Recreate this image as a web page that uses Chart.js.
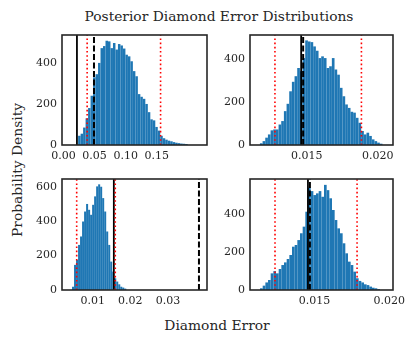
<!DOCTYPE html>
<html>
<head>
<meta charset="utf-8">
<script src="https://cdn.jsdelivr.net/npm/chart.js@4.4.0/dist/chart.umd.min.js"></script>
<style>
  body { margin: 0; background: #fff; }
  #wrap { position: relative; width: 415px; height: 343px; font-family: 'DejaVu Serif', serif; color: #262626; }
  #wrap canvas { position: absolute; }
  .lbl { position: absolute; white-space: nowrap; font-size: 13.8px; transform: translate(-50%, -50%); }
</style>
</head>
<body>
<div id="wrap">
  <div class="lbl" style="left:219px; top:16px;">Posterior Diamond Error Distributions</div>
  <div class="lbl" style="left:217px; top:325px;">Diamond Error</div>
  <div class="lbl" style="left:17px; top:170px; transform: translate(-50%, -50%) rotate(-90deg);">Probability Density</div>
  <canvas id="histA"></canvas>
  <canvas id="histB"></canvas>
  <canvas id="histC"></canvas>
  <canvas id="histD"></canvas>
</div>
<script>
// top left
const binStartA = 0.0235, binWidthA = 0.004;
const countsA = [45, 55, 85, 130, 180, 240, 330, 345, 400, 472, 482, 508, 505, 472, 497, 465, 492, 485, 470, 440,
  432, 408, 360, 335, 248, 235, 225, 200, 160, 125, 120, 88, 70, 45, 33, 26, 21, 18, 14, 11, 9, 7, 6, 5];
const refLinesA = [0.0216, 0.049];      // solid, dashed
const intervalA = [0.038, 0.156];
const xTicksA = [0, 0.05, 0.10, 0.15];
const xLabelsA = ['0.00', '0.05', '0.10', '0.15'];
const yTicksA = [0, 200, 400];

// top right
const binStartB = 0.01169, binWidthB = 0.000188;
const countsB = [8, 18, 34, 49, 68, 72, 72, 95, 111, 157, 191, 249, 293, 319, 357, 342, 403, 485, 480, 477,
  457, 437, 403, 411, 403, 357, 365, 403, 350, 326, 265, 226, 188, 172, 154, 150, 126, 103, 65, 49, 57, 42, 26, 18, 11, 6];
const refLinesB = [0.01460, 0.01474];
const intervalB = [0.01275, 0.018852];
const xTicksB = [0.015, 0.020];
const xLabelsB = ['0.015', '0.020'];
const yTicksB = [0, 200, 400];

// bottom left
const binStartC = 0.00447, binWidthC = 0.000535;
const countsC = [19, 146, 175, 262, 311, 398, 456, 500, 466, 437, 495, 544, 602, 614, 600, 534, 456, 340, 262, 165,
  107, 68, 49, 33, 19, 14, 8];
const refLinesC = [0.01560, 0.03826];
const intervalC = [0.00571, 0.01598];
const xTicksC = [0.01, 0.02, 0.03];
const xLabelsC = ['0.01', '0.02', '0.03'];
const yTicksC = [0, 200, 400, 600];

// bottom right
const binStartD = 0.01137, binWidthD = 0.000178;
const countsD = [9, 23, 40, 53, 88, 100, 88, 111, 132, 146, 164, 185, 229, 238, 264, 300, 335, 414, 541, 523,
  502, 511, 523, 493, 556, 528, 485, 423, 370, 326, 300, 247, 194, 150, 132, 97, 62, 48, 40, 30, 26, 18, 12, 9, 5];
const refLinesD = [0.01457, 0.01470];
const intervalD = [0.01237, 0.01785];
const xTicksD = [0.015, 0.020];
const xLabelsD = ['0.015', '0.020'];
const yTicksD = [0, 200, 400];

const YW = 45, PT = 12, PR = 18, XH = 24;
const TEXT = '#262626';

const framePlugin = {
  id: 'frame',
  afterDraw(chart) {
    const a = chart.chartArea, ctx = chart.ctx;
    ctx.save();
    ctx.strokeStyle = TEXT;
    ctx.lineWidth = 1.6;
    ctx.strokeRect(a.left, a.top, a.right - a.left, a.bottom - a.top);
    ctx.restore();
  }
};

function vline(x, yMax, color, width, dash) {
  return {
    type: 'line',
    data: [{ x: x, y: 0 }, { x: x, y: yMax }],
    borderColor: color,
    borderWidth: width,
    borderDash: dash,
    borderCapStyle: 'butt',
    pointRadius: 0,
    fill: false,
    order: 0
  };
}

function drawHist(id, area, xLim, yMax, binStart, binWidth, counts, refLines, interval, xTicks, xLabels, yTicks) {
  const canvas = document.getElementById(id);
  const w = area[2] - area[0] + YW + PR;
  const h = area[3] - area[1] + PT + XH;
  canvas.width = w; canvas.height = h;
  canvas.style.width = w + 'px'; canvas.style.height = h + 'px';
  canvas.style.left = (area[0] - YW) + 'px';
  canvas.style.top = (area[1] - PT) + 'px';

  const bars = counts.map((c, i) => ({ x: binStart + binWidth * (i + 0.5), y: c }));
  const font = { family: 'DejaVu Serif', size: 11 };

  new Chart(canvas, {
    type: 'bar',
    data: {
      datasets: [
        {
          type: 'bar',
          data: bars,
          backgroundColor: '#1f77b4',
          borderWidth: 0,
          inflateAmount: 0,
          barPercentage: 1,
          categoryPercentage: 1,
          order: 1
        },
        vline(interval[0], yMax, '#ff0000', 1.6, [1.6, 2.6]),
        vline(interval[1], yMax, '#ff0000', 1.6, [1.6, 2.6]),
        vline(refLines[0], yMax, '#000000', 1.8, []),
        vline(refLines[1], yMax, '#000000', 2, [6, 2.5])
      ]
    },
    options: {
      responsive: false,
      animation: false,
      events: [],
      layout: { autoPadding: false, padding: { top: PT, right: PR, left: 0, bottom: 0 } },
      plugins: { legend: { display: false }, tooltip: { enabled: false } },
      scales: {
        x: {
          type: 'linear',
          min: xLim[0], max: xLim[1],
          offset: false,
          grid: { display: false, drawTicks: false },
          border: { display: false },
          afterFit: s => { s.height = XH; },
          afterBuildTicks: s => { s.ticks = xTicks.map(v => ({ value: v })); },
          ticks: {
            padding: 5, color: TEXT, font: font, maxRotation: 0, autoSkip: false,
            callback: v => xLabels[xTicks.indexOf(v)]
          }
        },
        y: {
          min: 0, max: yMax,
          grid: { display: false, drawTicks: false },
          border: { display: false },
          afterFit: s => { s.width = YW; },
          afterBuildTicks: s => { s.ticks = yTicks.map(v => ({ value: v })); },
          ticks: { padding: 5, color: TEXT, font: font, callback: v => String(v) }
        }
      }
    },
    plugins: [framePlugin]
  });
}

drawHist('histA', [62, 35, 207, 145], [-0.0024, 0.2306], 536, binStartA, binWidthA, countsA, refLinesA, intervalA, xTicksA, xLabelsA, yTicksA);
drawHist('histB', [250, 35, 393, 145], [0.01099, 0.02108], 510, binStartB, binWidthB, countsB, refLinesB, intervalB, xTicksB, xLabelsB, yTicksB);
drawHist('histC', [62, 179, 207, 290], [0.0018, 0.0404], 645, binStartC, binWidthC, countsC, refLinesC, intervalC, xTicksC, xLabelsC, yTicksC);
drawHist('histD', [250, 179, 393, 290], [0.0107, 0.02025], 587, binStartD, binWidthD, countsD, refLinesD, intervalD, xTicksD, xLabelsD, yTicksD);
</script>
</body>
</html>
